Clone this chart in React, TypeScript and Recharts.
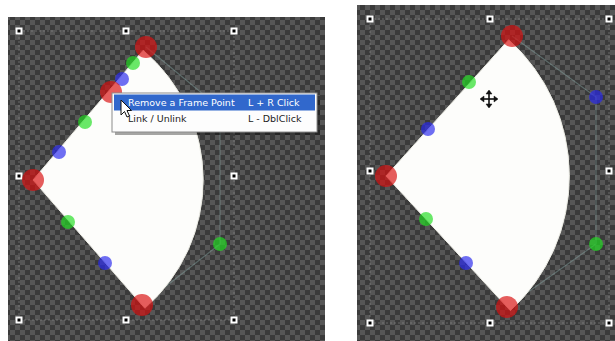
import * as React from 'react';
import { ComposedChart, Scatter, XAxis, YAxis, ReferenceArea, Sector } from 'recharts';

const W = 615;
const H = 341;

// frame points of each shape, in screen units (x right, y down)
const leftTip = [{ x: 146, y: 47 }];
const leftApex = [{ x: 33, y: 180 }];
const leftBottom = [{ x: 142, y: 305 }];
const leftRed = [{ x: 146, y: 47 }, { x: 111, y: 92 }, { x: 33, y: 180 }, { x: 142, y: 305 }];
const leftGreen = [{ x: 133, y: 63 }, { x: 85, y: 122 }, { x: 68, y: 222 }, { x: 220, y: 244 }];
const leftBlue = [{ x: 122, y: 79 }, { x: 59, y: 152 }, { x: 105, y: 263 }];
const leftGuide = [{ x: 146, y: 47 }, { x: 220, y: 108 }, { x: 220, y: 244 }, { x: 142, y: 305 }];
const leftHandles = [
    { x: 19, y: 31 }, { x: 126, y: 31 }, { x: 234, y: 31 },
    { x: 19, y: 176 }, { x: 234, y: 176 },
    { x: 19, y: 320 }, { x: 126, y: 320 }, { x: 234, y: 320 },
];

const rightTip = [{ x: 512, y: 36 }];
const rightApex = [{ x: 386, y: 176 }];
const rightBottom = [{ x: 507, y: 307 }];
const rightRed = [{ x: 512, y: 36 }, { x: 386, y: 176 }, { x: 507, y: 307 }];
const rightGreen = [{ x: 469, y: 82 }, { x: 426, y: 219 }, { x: 596, y: 244 }];
const rightBlue = [{ x: 428, y: 129 }, { x: 466, y: 263 }, { x: 596, y: 97 }];
const rightGuide = [{ x: 512, y: 36 }, { x: 596, y: 97 }, { x: 596, y: 244 }, { x: 507, y: 307 }];
const rightHandles = [
    { x: 370, y: 19 }, { x: 490, y: 19 }, { x: 609, y: 19 },
    { x: 370, y: 171 }, { x: 609, y: 171 },
    { x: 370, y: 323 }, { x: 490, y: 323 }, { x: 609, y: 323 },
];

const menuLabels = ['Remove a Frame Point', 'Link / Unlink'];
const menuKeys = ['L + R Click', 'L - DblClick'];

const pointerAt = [{ x: 121, y: 100 }];
const moveCursorAt = [{ x: 489, y: 99 }];

// layout of the popup menu
const MENU = { x1: 112, x2: 317, y1: 93, y2: 132, row: 16 };
const menuBox = [{ x: MENU.x1, y: MENU.y1 }];
const menuRows = menuLabels.map((label, i) => ({
    x: MENU.x1 + 16,
    y: MENU.y1 + 9 + i * MENU.row,
    label,
    keys: menuKeys[i],
    active: i === 0,
}));

const dist = (a, b) => Math.hypot(b.x - a.x, b.y - a.y);
const ang = (a, b) => (Math.atan2(a.y - b.y, b.x - a.x) * 180) / Math.PI;

// white fan drawn at the apex, reaching the top and bottom frame points
const fanShape = (tip, bottom) => (props: any) => {
    const { cx, cy, payload } = props;
    const r = (dist(payload, tip) + dist(payload, bottom)) / 2;
    return (
        <Sector
            cx={cx}
            cy={cy}
            innerRadius={0}
            outerRadius={r}
            startAngle={ang(payload, bottom)}
            endAngle={ang(payload, tip)}
            fill='#fdfdfb'
            stroke='#ecece4'
            strokeWidth={1}
        />
    );
};

const dot = (r, fill) => (props: any) => (
    <circle cx={props.cx} cy={props.cy} r={r} fill={fill} fillOpacity={0.68} />
);

const handle = (props: any) => (
    <g>
        <rect x={props.cx - 3.5} y={props.cy - 3.5} width={7} height={7} fill='#fff' />
        <rect x={props.cx - 1.5} y={props.cy - 1.5} width={3} height={3} fill='#000' />
    </g>
);

const none = () => <g />;

const menuFrame = (props: any) => {
    const { cx, cy } = props;
    const w = MENU.x2 - MENU.x1;
    const h = MENU.y2 - MENU.y1;
    return (
        <g>
            <rect x={cx + 3} y={cy + 3} width={w} height={h} fill='#000' fillOpacity={0.35} />
            <rect x={cx} y={cy} width={w} height={h} fill='#fdfdfd' stroke='#8c8c8c' />
            <rect x={cx + 2} y={cy + 1.5} width={w - 4} height={MENU.row} fill='#3168cc' />
        </g>
    );
};

const menuText = (props: any) => {
    const { cx, cy, payload } = props;
    const c = payload.active ? '#ffffff' : '#222222';
    return (
        <g fontFamily='"DejaVu Sans", sans-serif' fontSize={9.5} fill={c}>
            <text x={cx} y={cy} dominantBaseline='central'>{payload.label}</text>
            <text x={cx + 120} y={cy} dominantBaseline='central'>{payload.keys}</text>
        </g>
    );
};

const pointer = (props: any) => {
    const { cx, cy } = props;
    const pts = [[0, 0], [0, 15], [3.5, 11.5], [6, 17], [8.5, 16], [6, 10.5], [10.5, 10.5]]
        .map(p => `${cx + p[0]},${cy + p[1]}`).join(' ');
    return <polygon points={pts} fill='#fff' stroke='#111' strokeWidth={1} />;
};

const moveCursor = (props: any) => {
    const { cx, cy } = props;
    const a = 8;
    return (
        <g stroke='#111' strokeWidth={1.6} fill='#111'>
            <line x1={cx - a} y1={cy} x2={cx + a} y2={cy} />
            <line x1={cx} y1={cy - a} x2={cx} y2={cy + a} />
            <polygon points={`${cx - a - 1},${cy} ${cx - a + 3},${cy - 3} ${cx - a + 3},${cy + 3}`} strokeWidth={0.5} />
            <polygon points={`${cx + a + 1},${cy} ${cx + a - 3},${cy - 3} ${cx + a - 3},${cy + 3}`} strokeWidth={0.5} />
            <polygon points={`${cx},${cy - a - 1} ${cx - 3},${cy - a + 3} ${cx + 3},${cy - a + 3}`} strokeWidth={0.5} />
            <polygon points={`${cx},${cy + a + 1} ${cx - 3},${cy + a - 3} ${cx + 3},${cy + a - 3}`} strokeWidth={0.5} />
        </g>
    );
};

const guideLine = { stroke: '#86a4a2', strokeWidth: 1.2, strokeOpacity: 0.45 };

export default function App() {
    return (
        <div style={{ position: 'absolute', left: 0, top: 0, width: W, height: H, background: '#fff' }}>
            <ComposedChart width={W} height={H} margin={{ top: 0, right: 0, bottom: 0, left: 0 }}>
                <defs>
                    <pattern id='checker' width={10} height={10} patternUnits='userSpaceOnUse'>
                        <rect width={10} height={10} fill='#3a3a3a' />
                        <rect width={5} height={5} fill='#565656' />
                        <rect x={5} y={5} width={5} height={5} fill='#565656' />
                    </pattern>
                </defs>
                <XAxis type='number' dataKey='x' domain={[0, W]} hide />
                <YAxis type='number' dataKey='y' domain={[0, H]} reversed hide />

                <ReferenceArea x1={8} x2={325} y1={17} y2={H} fill='url(#checker)' fillOpacity={1} stroke='none' />
                <ReferenceArea x1={357} x2={W} y1={5} y2={H} fill='url(#checker)' fillOpacity={1} stroke='none' />
                <ReferenceArea x1={19} x2={234} y1={31} y2={320} fill='none' stroke='#9a9a9a' strokeOpacity={0.5} strokeDasharray='2 2' />
                <ReferenceArea x1={370} x2={609} y1={19} y2={323} fill='none' stroke='#9a9a9a' strokeOpacity={0.5} strokeDasharray='2 2' />

                <Scatter data={leftGuide} line={guideLine} lineType='joint' shape={none} isAnimationActive={false} />
                <Scatter data={rightGuide} line={guideLine} lineType='joint' shape={none} isAnimationActive={false} />

                <Scatter data={leftApex} shape={fanShape(leftTip[0], leftBottom[0])} isAnimationActive={false} />
                <Scatter data={rightApex} shape={fanShape(rightTip[0], rightBottom[0])} isAnimationActive={false} />

                <Scatter data={leftHandles} shape={handle} isAnimationActive={false} />
                <Scatter data={rightHandles} shape={handle} isAnimationActive={false} />

                <Scatter data={leftGreen} shape={dot(7, '#22dd22')} isAnimationActive={false} />
                <Scatter data={leftBlue} shape={dot(7, '#2a2aee')} isAnimationActive={false} />
                <Scatter data={leftRed} shape={dot(11, '#d81010')} isAnimationActive={false} />
                <Scatter data={rightGreen} shape={dot(7, '#22dd22')} isAnimationActive={false} />
                <Scatter data={rightBlue} shape={dot(7, '#2a2aee')} isAnimationActive={false} />
                <Scatter data={rightRed} shape={dot(11, '#d81010')} isAnimationActive={false} />

                <Scatter data={menuBox} shape={menuFrame} isAnimationActive={false} />
                <Scatter data={menuRows} shape={menuText} isAnimationActive={false} />

                <Scatter data={pointerAt} shape={pointer} isAnimationActive={false} />
                <Scatter data={moveCursorAt} shape={moveCursor} isAnimationActive={false} />
            </ComposedChart>
        </div>
    );
}
